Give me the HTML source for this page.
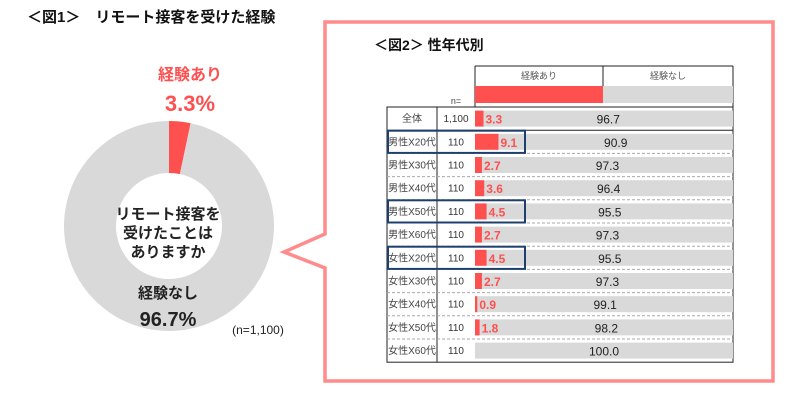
<!DOCTYPE html>
<html><head><meta charset="utf-8"><style>
body{margin:0;background:#fff;}
svg{display:block;font-family:"Liberation Sans","Noto Sans CJK JP",sans-serif;}
</style></head><body>
<svg id="c" width="800" height="412" viewBox="0 0 800 412">
<text x="27" y="22" font-size="15" font-weight="bold" fill="#111">＜図1＞　リモート接客を受けた経験</text>
<path d="M325,22 H773 V381 H325 V268 L284,252 L325,234 Z" fill="none" stroke="#ff8c8c" stroke-width="3.5" stroke-linejoin="miter"/>
<text x="374" y="50" font-size="14" font-weight="bold" fill="#111">＜図2＞ 性年代別</text>
<g id="donut"></g>
<g id="table"></g>
</svg>
<script>
const donutLabels=["経験あり","経験なし"];
const donutValues=[3.3,96.7];
const rowLabels=["全体","男性X20代","男性X30代","男性X40代","男性X50代","男性X60代","女性X20代","女性X30代","女性X40代","女性X50代","女性X60代"];
const rowN=["1,100","110","110","110","110","110","110","110","110","110","110"];
const expYes=[3.3,9.1,2.7,3.6,4.5,2.7,4.5,2.7,0.9,1.8,0.0];
const expNo=[96.7,90.9,97.3,96.4,95.5,97.3,95.5,97.3,99.1,98.2,100.0];
const highlighted=[1,4,6];

const NS="http://www.w3.org/2000/svg";
function mk(tag,attrs,parent,text){const e=document.createElementNS(NS,tag);for(const k in attrs)e.setAttribute(k,attrs[k]);if(text!==undefined)e.textContent=text;parent.appendChild(e);return e;}

// Donut
const dg=document.getElementById('donut');
const cx=169,cy=226,ro=105,ri=53;
const total=donutValues.reduce((a,b)=>a+b,0);
const colors=["#ff5050","#d9d9d9"];
let a0=0;
function pt(r,a){return [cx+r*Math.sin(a),cy-r*Math.cos(a)];}
donutValues.forEach((v,i)=>{
  const a1=a0+v/total*2*Math.PI;
  const large=(a1-a0)>Math.PI?1:0;
  const p1=pt(ro,a0),p2=pt(ro,a1),p3=pt(ri,a1),p4=pt(ri,a0);
  const p=mk('path',{d:`M${p1} A${ro},${ro} 0 ${large} 1 ${p2} L${p3} A${ri},${ri} 0 ${large} 0 ${p4} Z`,fill:colors[i]},dg);
  
  
  a0=a1;
});
let t;
t=mk('text',{x:190,y:80,'font-size':16,'font-weight':'bold',fill:'#ff5050','text-anchor':'middle'},dg,donutLabels[0]);

t=mk('text',{x:190,y:111,'font-size':22,'font-weight':'bold',fill:'#ff5050','text-anchor':'middle'},dg,donutValues[0].toFixed(1)+'%');

t=mk('text',{x:168,y:298,'font-size':15,'font-weight':'bold',fill:'#222','text-anchor':'middle'},dg,donutLabels[1]);

t=mk('text',{x:168,y:326,'font-size':20,'font-weight':'bold',fill:'#222','text-anchor':'middle'},dg,donutValues[1].toFixed(1)+'%');

["リモート接客を","受けたことは","ありますか"].forEach((s,i)=>{
  const e=mk('text',{x:168,y:219+i*19,'font-size':15,'font-weight':'bold',fill:'#222','text-anchor':'middle'},dg,s);
  
});
t=mk('text',{x:258,y:334,'font-size':12,fill:'#222','text-anchor':'middle'},dg,'(n=1,100)');


// Table
const tg=document.getElementById('table');
const L=387,C1=437,B0=475,B1=733,top0=107,rh=23.2;
const xs=v=>B0+(B1-B0)*v/100;
mk('line',{x1:B0,y1:66,x2:B1,y2:66,stroke:'#222','stroke-width':1},tg);
mk('line',{x1:B0,y1:66,x2:B0,y2:top0,stroke:'#222'},tg);
mk('line',{x1:603,y1:66,x2:603,y2:103,stroke:'#222'},tg);
mk('line',{x1:B1,y1:66,x2:B1,y2:top0+rh*11,stroke:'#222'},tg);
t=mk('text',{x:539,y:79,'font-size':9,fill:'#555','text-anchor':'middle'},tg,'経験あり');

t=mk('text',{x:668,y:79,'font-size':9,fill:'#555','text-anchor':'middle'},tg,'経験なし');

t=mk('rect',{x:B0,y:86,width:603-B0,height:17,fill:'#ff5050'},tg);

t=mk('rect',{x:603,y:86,width:B1-603,height:17,fill:'#d9d9d9'},tg);

t=mk('text',{x:456,y:104,'font-size':9,fill:'#444','text-anchor':'middle'},tg,'n=');

mk('rect',{x:L,y:top0,width:B1-L,height:rh*11,fill:'none',stroke:'#222','stroke-width':1},tg);
mk('line',{x1:C1,y1:top0,x2:C1,y2:top0+rh*11,stroke:'#222'},tg);
rowLabels.forEach((lab,i)=>{
  const y=top0+i*rh, my=y+rh/2;
  if(i>0){
    const solid=(i===1);
    mk('line',{x1:L,y1:y,x2:B1,y2:y,stroke:solid?'#222':'#aaa','stroke-dasharray':solid?'':'3,2','stroke-width':1},tg);
  }
  let e=mk('text',{x:(L+C1)/2,y:my+3.5,'font-size':10,fill:'#444','text-anchor':'middle'},tg,lab);
  
  e=mk('text',{x:456,y:my+3.5,'font-size':10,fill:'#333','text-anchor':'middle'},tg,rowN[i]);
  
  const by=my-8;
  e=mk('rect',{x:xs(expYes[i]),y:by,width:xs(expYes[i]+expNo[i])-xs(expYes[i]),height:16,fill:'#d9d9d9'},tg);
  
  e=mk('rect',{x:B0,y:by,width:xs(expYes[i])-B0,height:16,fill:'#ff5050'},tg);
  
  if(expYes[i]>0){
    e=mk('text',{x:xs(expYes[i])+2,y:my+5,'font-size':12,'font-weight':'bold',fill:'#ff5050'},tg,expYes[i].toFixed(1));
    
  }
  e=mk('text',{x:(xs(expYes[i])+xs(expYes[i]+expNo[i]))/2,y:my+5,'font-size':12,fill:'#222','text-anchor':'middle'},tg,expNo[i].toFixed(1));
  
});
highlighted.forEach(i=>{
  const y=top0+i*rh;
  const e=mk('rect',{x:L+1,y:y+0.5,width:525-L-1,height:rh-1,fill:'none',stroke:'#1f3f6e','stroke-width':2},tg);
  
});
</script>
</body></html>
